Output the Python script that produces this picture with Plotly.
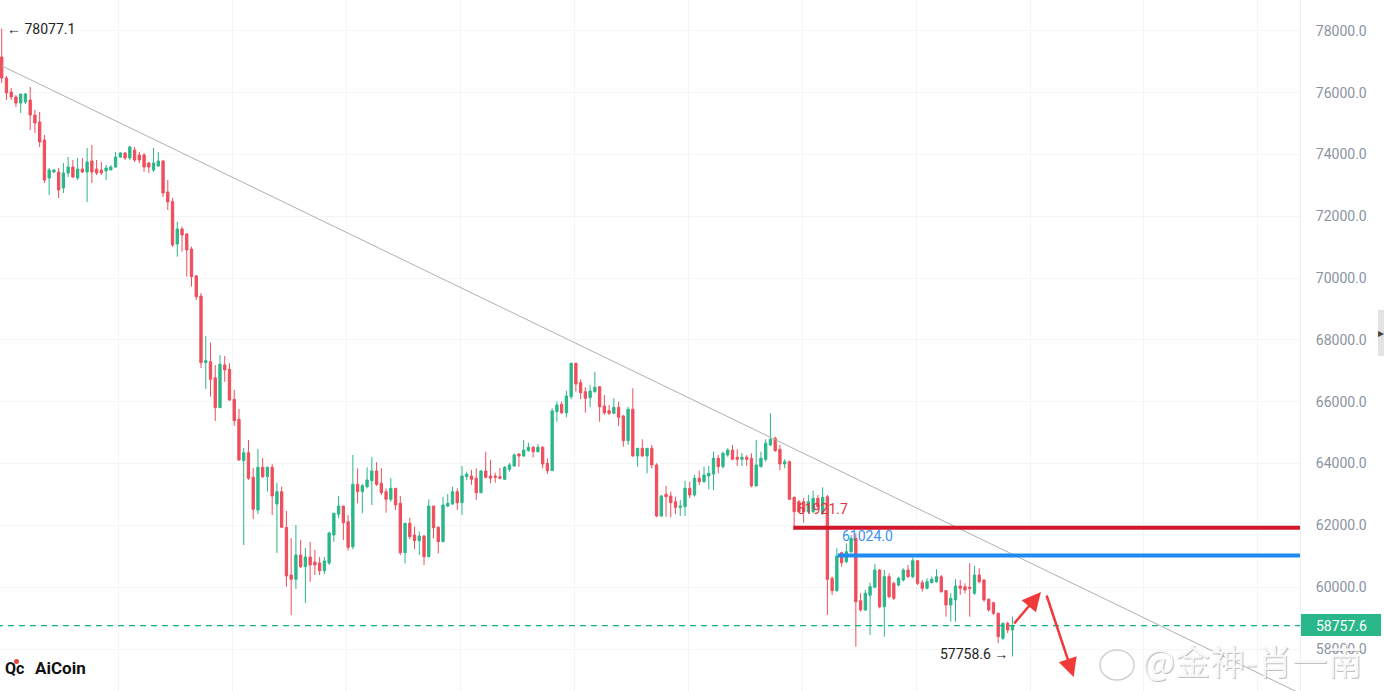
import plotly.graph_objects as go

# ---------------- data ----------------
opens = [
    77156, 76476, 76023, 75861, 75667, 75700, 75764, 75279, 75052, 74470,
    73240, 73435, 73435, 72917, 73402, 73596, 73240, 73532, 73435, 73791,
    73532, 73499, 73467, 73499, 73596, 73920, 74049, 73888, 74146, 73985,
    73985, 73726, 73499, 73629, 73791, 72788, 72474, 71105, 71590, 71428,
    70943, 70069, 69422, 67264, 67296, 66779, 65808, 67190, 67051, 66080,
    65433, 64093, 64352, 63556, 62498, 63880, 63575, 63880, 62692, 63090,
    61938, 60395, 60256, 61042, 60663, 60977, 60815, 60783, 60534, 60783,
    61689, 62359, 62627, 62119, 61310, 63329, 63090, 63252, 63446, 63760,
    63362, 63090, 62844, 63200, 62715, 61116, 62068, 61689, 61505, 61657,
    60987, 62627, 61938, 61472, 62627, 62692, 63090, 62734, 63575, 63598,
    63524, 63058, 63760, 63598, 63598, 63575, 63491, 63815, 63922, 64310,
    64245, 64417, 64527, 64384, 64527, 64009, 63770, 65679, 65918, 65646,
    66164, 67245, 66617, 66326, 66132, 66326, 66487, 65863, 65711, 65627,
    65821, 65540, 64740, 65756, 64245, 64494, 64245, 64494, 63954, 62304,
    63006, 62951, 62767, 62585, 62605, 63200, 62983, 63524, 63414, 63598,
    63663, 64171, 63899, 64278, 64439, 64203, 64138, 64203, 64171, 63275,
    63899, 64138, 64601, 64818, 64462, 63986, 64061, 62909, 62767, 62767,
    62443, 62443, 62877, 62391, 62928, 60288, 59887, 61116, 60825, 61149,
    61582, 59563, 59262, 59740, 59997, 60557, 59369, 60340, 60126, 60071,
    60233, 60557, 60340, 60857, 60146, 59964, 60146, 60178, 60340, 59887,
    59424, 59586, 60039, 60016, 59997, 59803, 60395, 60233, 59608, 59498,
    59156, 58346, 58832, 58615,
]
highs = [
    78077.1, 76541, 76153, 75926, 75958, 75991, 76185, 75441, 75376, 74632,
    73564, 73532, 73564, 73726, 73920, 73823, 73888, 73888, 74211, 74308,
    73823, 73758, 73661, 73661, 74082, 74082, 74082, 74276, 74243, 74082,
    74049, 73758, 74211, 74082, 73823, 73176, 72593, 71826, 71665, 71461,
    71017, 70102, 69519, 68128, 67911, 67190, 67513, 67481, 67245, 66381,
    65766, 64504, 64763, 63857, 64472, 64180, 63899, 63986, 63381, 63252,
    62466, 61592, 62013, 61527, 61268, 61472, 61204, 60977, 60977, 61796,
    62411, 62951, 62627, 62336, 64278, 63847, 63339, 63880, 64203, 64041,
    63847, 63200, 63524, 63200, 62951, 62087, 62249, 61958, 61796, 61689,
    62844, 62627, 61980, 62928, 63016, 63252, 63200, 63922, 63737, 63792,
    63847, 63792, 64384, 64116, 63705, 63857, 63922, 64019, 64333, 64333,
    64763, 64676, 64569, 64634, 64569, 64171, 65789, 66002, 66002, 66358,
    67264, 67264, 66727, 66468, 66543, 66973, 66510, 66219, 65895, 66112,
    66002, 65572, 65840, 66436, 64494, 64786, 64494, 64601, 64009, 62983,
    63275, 63090, 62928, 62822, 63436, 63414, 63630, 63770, 63899, 63922,
    64384, 64278, 64384, 64494, 64601, 64462, 64342, 64278, 64333, 64763,
    64384, 64786, 65627, 64870, 64601, 64138, 64093, 62928, 62822, 62886,
    62983, 63122, 62983, 63232, 62983, 60340, 61259, 61149, 61420, 61689,
    61744, 59803, 59909, 60146, 60751, 60579, 60557, 60450, 60178, 60340,
    60612, 60718, 60967, 60880, 60233, 60288, 60340, 60579, 60394, 59909,
    59803, 60256, 60233, 60126, 60773, 60686, 60612, 60256, 59641, 59531,
    59175, 58851, 58884, 59045,
]
lows = [
    76314, 75764, 75764, 75538, 75344, 75635, 74794, 74696, 74243, 73079,
    72690, 73402, 72593, 72755, 73273, 73240, 73176, 73402, 72464, 73079,
    73338, 73338, 73176, 73499, 73564, 73888, 73823, 73823, 73758, 73726,
    73435, 73402, 73435, 73596, 72626, 72205, 71008, 70694, 70856, 70047,
    69723, 69293, 67093, 66413, 66164, 65378, 65798, 66649, 66034, 65216,
    64093, 61365, 63469, 62207, 62368, 63533, 63090, 62336, 61107, 61916,
    60016, 59100, 59942, 60621, 59489, 60178, 60395, 60395, 60427, 60718,
    61472, 62229, 61527, 61181, 61226, 62715, 62391, 63200, 62660, 63275,
    62983, 62411, 62767, 62498, 61042, 60773, 61550, 61226, 61042, 60718,
    60967, 61582, 61097, 61472, 62585, 62660, 62498, 62336, 63469, 63307,
    62822, 63039, 63524, 63362, 63381, 63491, 63469, 63737, 63899, 63899,
    64223, 64384, 64203, 64352, 63847, 63663, 63770, 65355, 65604, 65497,
    66080, 66326, 66080, 65646, 65821, 66293, 65355, 65572, 65572, 65604,
    65216, 64546, 64601, 64223, 63899, 64223, 63685, 63847, 62262, 62281,
    62281, 62262, 62368, 62304, 62304, 62877, 62928, 63307, 63381, 63168,
    63145, 63685, 63847, 64223, 64116, 63922, 63922, 63922, 63232, 63275,
    63880, 64061, 64569, 64384, 63792, 63847, 62822, 61980, 62433, 62087,
    62391, 62391, 62498, 62336, 59100, 59748, 59854, 60663, 60773, 61097,
    58075, 59207, 59240, 58453, 59964, 59317, 58398, 59641, 59586, 60016,
    60178, 60298, 60288, 60071, 59854, 59932, 60126, 60146, 59822, 59045,
    58884, 58884, 59748, 59803, 59045, 59748, 60126, 59531, 59207, 59100,
    58185, 58292, 58508, 57758.6,
]
closes = [
    76476, 75991, 75861, 75667, 75958, 75958, 75279, 75020, 74405, 73176,
    73499, 73499, 72852, 73402, 73596, 73273, 73532, 73435, 73758, 73435,
    73402, 73402, 73564, 73596, 73920, 74049, 73888, 74243, 73823, 73823,
    73596, 73596, 73726, 73791, 72755, 72464, 71072, 71590, 71396, 70911,
    70047, 69400, 67264, 67329, 66727, 65808, 67212, 67028, 66057, 65387,
    64116, 64352, 63524, 62521, 63880, 63575, 63880, 62951, 63090, 61938,
    60362, 60256, 61042, 60663, 60977, 60718, 60718, 60534, 60848, 61754,
    62391, 62627, 62087, 61291, 63329, 63090, 63284, 63469, 63760, 63329,
    63058, 62844, 63200, 62660, 61116, 62068, 61634, 61505, 61657, 60987,
    62627, 61925, 61472, 62660, 62715, 63090, 62734, 63598, 63653, 63491,
    63058, 63760, 63556, 63524, 63556, 63524, 63880, 63954, 64278, 64245,
    64439, 64527, 64384, 64527, 63986, 63770, 65701, 65895, 65646, 66187,
    67245, 66575, 66293, 66112, 66348, 66468, 65840, 65646, 65627, 65821,
    65497, 64740, 65756, 64245, 64494, 64245, 64494, 63954, 62304, 62951,
    62928, 62734, 62585, 62627, 63200, 62983, 63524, 63414, 63630, 63685,
    64171, 63899, 64333, 64439, 64138, 64138, 64203, 64138, 63275, 63954,
    64171, 64656, 64786, 64417, 63986, 64061, 62844, 62443, 62443, 62443,
    62767, 62877, 62605, 62909, 60256, 59887, 61010, 60793, 61149, 61582,
    59531, 59262, 59803, 60016, 60557, 59369, 60340, 59693, 59641, 60288,
    60557, 60340, 60857, 60126, 59964, 60178, 60256, 60340, 59854, 59424,
    59641, 60039, 59964, 59909, 59964, 60395, 60178, 59586, 59262, 59156,
    58398, 58832, 58615, 58757.6,
]
bars = list(range(len(opens)))

price_ticks = [58000, 60000, 62000, 64000, 66000, 68000, 70000, 72000, 74000, 76000, 78000]
price_tick_labels = [f"{v:.1f}" for v in price_ticks]

resistance_red = 61921.7
resistance_blue = 61024.0
last_price = 58757.6
period_high = 78077.1
period_low = 57758.6
trend_bar = [0, 273]
trend_price = [76871, 56612]

GREEN = "#2ab78a"
RED = "#ef4e5c"

fig = go.Figure()

# descending trend line
fig.add_trace(go.Scatter(x=trend_bar, y=trend_price, mode="lines",
                         line=dict(color="#b0b0b0", width=1), hoverinfo="skip"))

# candles
fig.add_trace(go.Candlestick(
    x=bars, open=opens, high=highs, low=lows, close=closes,
    increasing=dict(line=dict(color=GREEN, width=1), fillcolor=GREEN),
    decreasing=dict(line=dict(color=RED, width=1), fillcolor=RED),
    whiskerwidth=0, hoverinfo="skip",
))

# resistance lines
fig.add_trace(go.Scatter(x=[166.8, 274], y=[resistance_red, resistance_red], mode="lines",
                         line=dict(color="#d4182c", width=4), hoverinfo="skip"))
fig.add_trace(go.Scatter(x=[176.2, 274], y=[resistance_blue, resistance_blue], mode="lines",
                         line=dict(color="#1f8bf0", width=4), hoverinfo="skip"))
# last price dashed line
fig.add_trace(go.Scatter(x=[-1, 274], y=[last_price, last_price], mode="lines",
                         line=dict(color="#12b07c", width=1.2, dash="6px,5px"), hoverinfo="skip"))

grid_x = [24.7 + 24 * k for k in range(11)]

fig.update_layout(
    width=1384, height=691,
    margin=dict(l=0, r=84, t=0, b=0),
    paper_bgcolor="white", plot_bgcolor="white",
    showlegend=False,
    boxgap=0.3,
    font=dict(family="Roboto, Arial, sans-serif"),
    xaxis=dict(range=[-0.36, 273.6], rangeslider=dict(visible=False),
               tickvals=grid_x, showticklabels=False, ticks="",
               showgrid=True, gridcolor="#f4f5f7", gridwidth=1, zeroline=False),
    yaxis=dict(side="right", range=[56641, 79000],
               tickvals=price_ticks, ticktext=price_tick_labels,
               tickfont=dict(size=14, color="#8a93a2", family="Roboto, Arial, sans-serif"),
               ticks="", ticklabelstandoff=12,
               showgrid=True, gridcolor="#f4f5f7", gridwidth=1, zeroline=False,
               showline=True, linecolor="#eceef1", linewidth=1),
)

shapes = [
    # last-price tag
    dict(type="rect", xref="paper", yref="y", x0=1301 / 1300, x1=1381 / 1300,
         y0=58421, y1=59133, fillcolor=GREEN, line=dict(width=0), layer="above"),
    # side tab
    dict(type="rect", xref="paper", yref="paper", x0=1378 / 1300, x1=1384 / 1300,
         y0=1 - 356 / 691, y1=1 - 310 / 691, fillcolor="#e3e3e3", line=dict(width=0)),
    # AiCoin red dot
    dict(type="circle", xref="paper", yref="paper", x0=14 / 1300, x1=19 / 1300,
         y0=1 - 664 / 691, y1=1 - 659 / 691, fillcolor="#e8443a", line=dict(width=0)),
    # weibo logo outline
    dict(type="circle", xref="paper", yref="paper", x0=1100 / 1300, x1=1134 / 1300,
         y0=1 - 680 / 691, y1=1 - 650 / 691, fillcolor="rgba(255,255,255,0.5)",
         line=dict(color="rgba(190,190,190,0.7)", width=1.5)),
]
fig.update_layout(shapes=shapes)

ann = [
    dict(x=0, y=period_high, xref="x", yref="y", text="← 78077.1", showarrow=False,
         xanchor="left", yanchor="middle", xshift=3, font=dict(size=14, color="#222222")),
    dict(x=213, y=period_low, xref="x", yref="y", text="57758.6 →", showarrow=False,
         xanchor="right", yanchor="middle", xshift=-2, yshift=2, font=dict(size=14, color="#222222")),
    dict(x=167.2, y=resistance_red, xref="x", yref="y", text="61921.7", showarrow=False,
         xanchor="left", yanchor="middle", yshift=19, font=dict(size=14, color="#e2343e")),
    dict(x=176.7, y=resistance_blue, xref="x", yref="y", text="61024.0", showarrow=False,
         xanchor="left", yanchor="middle", yshift=20, font=dict(size=14, color="#3a93f0")),
    dict(x=1341 / 1300, y=last_price, xref="paper", yref="y", text="58757.6", showarrow=False,
         xanchor="center", yanchor="middle", font=dict(size=14, color="white")),
    dict(x=1381 / 1300, y=1 - 333 / 691, xref="paper", yref="paper", text="▸", showarrow=False,
         xanchor="center", yanchor="middle", font=dict(size=12, color="#444444")),
    # AiCoin logo
    dict(x=3 / 1300, y=1 - 668 / 691, xref="paper", yref="paper", text="<b>Qc</b>", showarrow=False,
         xanchor="left", yanchor="middle", font=dict(size=16, color="#111111")),
    dict(x=33 / 1300, y=1 - 668 / 691, xref="paper", yref="paper", text="<b>AiCoin</b>", showarrow=False,
         xanchor="left", yanchor="middle", font=dict(size=17, color="#111111")),
    # watermark (shadow + light fill)
    dict(x=1140 / 1300, y=1 - 659 / 691, xref="paper", yref="paper", text="@金神-肖一南", showarrow=False,
         xanchor="left", yanchor="middle", xshift=1, yshift=-1,
         font=dict(size=35, color="rgba(140,140,140,0.55)", family="Noto Sans CJK SC")),
    dict(x=1140 / 1300, y=1 - 659 / 691, xref="paper", yref="paper", text="@金神-肖一南", showarrow=False,
         xanchor="left", yanchor="middle",
         font=dict(size=35, color="rgba(250,250,250,0.95)", family="Noto Sans CJK SC")),
    # red arrows
    dict(x=219.0, y=59845, ax=213.1, ay=58777, xref="x", yref="y", axref="x", ayref="y",
         text="", showarrow=True, arrowhead=2, arrowsize=1.5, arrowwidth=2.5, arrowcolor="#f03a3a"),
    dict(x=225.9, y=57094, ax=220.1, ay=59780, xref="x", yref="y", axref="x", ayref="y",
         text="", showarrow=True, arrowhead=2, arrowsize=1.5, arrowwidth=2.5, arrowcolor="#f03a3a"),
]
fig.update_layout(annotations=ann)

fig.write_html("out.html")
